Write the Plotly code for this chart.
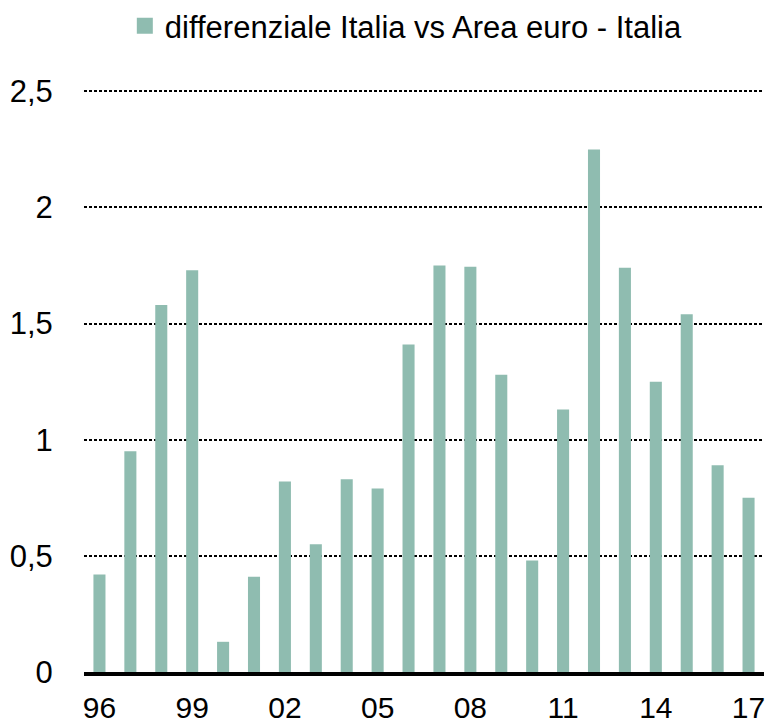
import plotly.graph_objects as go

years = list(range(1996, 2018))
values = [0.42, 0.95, 1.58, 1.73, 0.13, 0.41, 0.82, 0.55, 0.83, 0.79, 1.41,
          1.75, 1.745, 1.28, 0.48, 1.13, 2.25, 1.74, 1.25, 1.54, 0.89, 0.75]
tick_years = [1996, 1999, 2002, 2005, 2008, 2011, 2014, 2017]
tick_labels = ["96", "99", "02", "05", "08", "11", "14", "17"]
y_ticks = [0, 0.5, 1, 1.5, 2, 2.5]
series_name = "differenziale Italia vs Area euro - Italia"

FONT = "Liberation Sans Narrow, Arial Narrow, Liberation Sans, sans-serif"
BAR = "#8FBCB0"

fig = go.Figure()
fig.add_trace(go.Bar(
    x=years, y=values, name=series_name,
    marker=dict(color=BAR, line=dict(width=0)),
    showlegend=False,
))
fig.add_trace(go.Scatter(
    x=[None], y=[None], mode="markers", name=series_name,
    marker=dict(symbol="square", size=18, color=BAR),
    showlegend=True,
))

fig.update_layout(
    width=766, height=728,
    margin=dict(l=84, r=2, t=89, b=56, autoexpand=False),
    paper_bgcolor="white", plot_bgcolor="white",
    separators=",.",
    bargap=0.61,
    font=dict(family=FONT, size=31, color="black"),
    legend=dict(orientation="h", x=0.474, xanchor="center", y=1.108, yanchor="middle",
                font=dict(family=FONT, size=31, color="black"),
                itemwidth=30, itemsizing="trace", bgcolor="rgba(0,0,0,0)"),
    xaxis=dict(
        tickmode="array", tickvals=tick_years, ticktext=tick_labels,
        range=[1995.5, 2017.5], showgrid=False, zeroline=False,
        showline=True, linecolor="black", linewidth=4,
        ticks="outside", ticklen=6, tickcolor="rgba(0,0,0,0)",
        tickfont=dict(family=FONT, size=30, color="black"),
    ),
    yaxis=dict(
        range=[0, 2.51], tickmode="array", tickvals=y_ticks,
        showgrid=True, gridcolor="black", gridwidth=2, griddash="3px,2px",
        zeroline=False, showline=False, ticks="outside", ticklen=24,
        tickcolor="rgba(0,0,0,0)",
        tickfont=dict(family=FONT, size=31, color="black"),
    ),
)

fig.write_html("out.html", config={"displayModeBar": False},
               post_script="document.body.style.margin='0';")
